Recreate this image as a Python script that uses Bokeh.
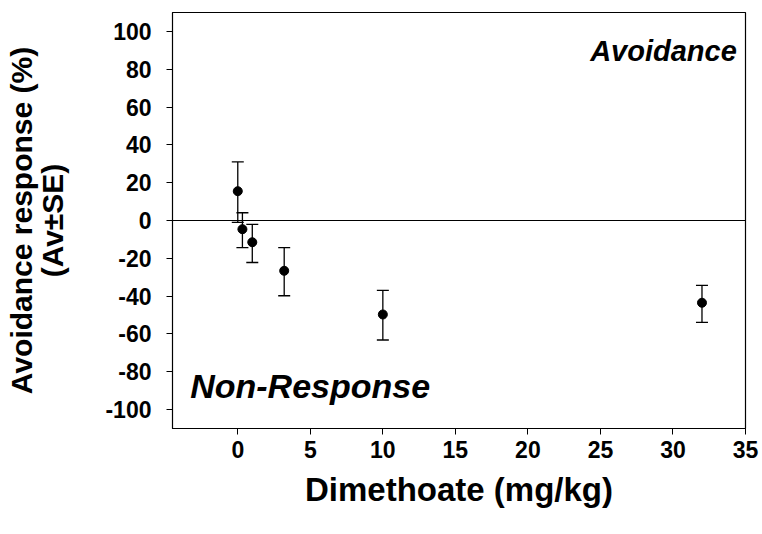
from bokeh.plotting import figure
from bokeh.models import (Range1d, Whisker, ColumnDataSource, Span, Label, FixedTicker, TeeHead,
                          LinearAxis)
from bokeh.embed import file_html
from bokeh.resources import INLINE

# Data
dose = [0, 0.32, 1, 3.2, 10, 32]
mean = [15.5, -4.6, -11.5, -26.6, -49.7, -43.5]
upper = [31.0, 4.1, -2.1, -14.3, -37.0, -34.3]
lower = [-1.0, -14.3, -22.2, -39.8, -63.2, -53.9]
x_ticks = [0, 5, 10, 15, 20, 25, 30, 35]
y_ticks = [-100, -80, -60, -40, -20, 0, 20, 40, 60, 80, 100]

FONT = "Liberation Sans"

src = ColumnDataSource(data=dict(x=dose, y=mean, up=upper, lo=lower))

p = figure(width=762, height=534, output_backend="svg", toolbar_location=None,
           x_range=Range1d(-4.5, 35), y_range=Range1d(-110, 110),
           min_border_left=172, min_border_right=17, min_border_top=12, min_border_bottom=106)
p.xgrid.visible = False
p.ygrid.visible = False
p.outline_line_color = "black"
p.outline_line_width = 1.2
p.background_fill_color = "white"
p.border_fill_color = "white"

for ax in (p.xaxis[0], p.yaxis[0]):
    ax.major_tick_in = 0
    ax.major_tick_out = 6
    ax.minor_tick_line_color = None
    ax.axis_line_color = "black"
    ax.major_tick_line_color = "black"
    ax.major_label_text_font = FONT
    ax.major_label_text_font_style = "bold"
    ax.major_label_text_font_size = "23px"
    ax.major_label_text_color = "black"
    ax.axis_label_text_font = FONT
    ax.axis_label_text_font_style = "bold"
    ax.axis_label_text_color = "black"

p.xaxis.ticker = FixedTicker(ticks=x_ticks)
p.yaxis.ticker = FixedTicker(ticks=y_ticks)
p.xaxis.major_label_overrides = {t: str(t) for t in x_ticks}
p.yaxis.major_label_overrides = {t: str(t) for t in y_ticks}
p.xaxis.axis_label = "Dimethoate (mg/kg)"
p.xaxis.axis_label_text_font_size = "33px"
p.xaxis.major_label_standoff = 6
p.xaxis.axis_label_standoff = 10
p.yaxis.major_label_standoff = 15
p.yaxis.axis_label = "(Av\u00b1SE)"
p.yaxis.axis_label_text_font_size = "30px"
p.yaxis.axis_label_standoff = 33

# outer line of the y-axis title, carried by a bare extra axis
outer = LinearAxis(ticker=FixedTicker(ticks=[]), axis_line_color=None, major_tick_line_color=None,
                   minor_tick_line_color=None, major_label_text_font_size="0px",
                   axis_label="Avoidance response (%)", axis_label_text_font=FONT,
                   axis_label_text_font_style="bold", axis_label_text_font_size="30px",
                   axis_label_text_color="black", axis_label_standoff=-4,
                   major_tick_out=0, major_tick_in=0, major_label_standoff=0)
p.add_layout(outer, "left")

p.add_layout(Span(location=0, dimension="width", line_color="black", line_width=1.2))

w = Whisker(source=src, base="x", upper="up", lower="lo", line_color="black", line_width=1.3,
            upper_head=TeeHead(size=12, line_color="black", line_width=1.3),
            lower_head=TeeHead(size=12, line_color="black", line_width=1.3))
p.add_layout(w)

p.scatter("x", "y", source=src, size=9, color="black")

p.add_layout(Label(x=34.4, y=89.5, text="Avoidance", text_align="right", text_baseline="alphabetic",
                   text_font=FONT, text_font_style="bold italic", text_font_size="29px", text_color="black"))
p.add_layout(Label(x=-3.28, y=-87.7, text="Non-Response", text_align="left", text_baseline="alphabetic",
                   text_font=FONT, text_font_style="bold italic", text_font_size="34px", text_color="black"))

open("out.html", "w").write(file_html(p, INLINE))
